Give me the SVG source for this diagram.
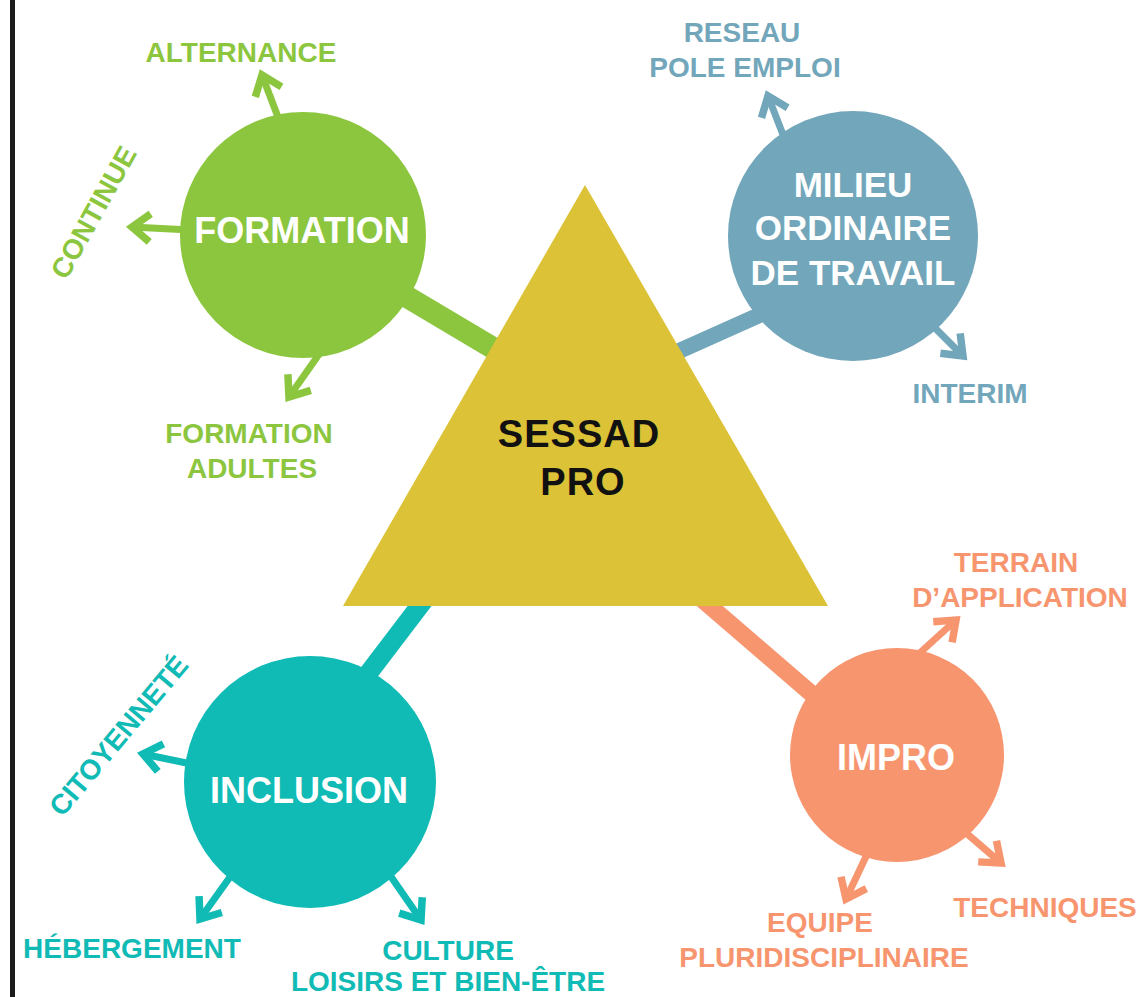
<svg xmlns="http://www.w3.org/2000/svg" width="1141" height="997" viewBox="0 0 1141 997">
  <style>
    text { font-family: "Liberation Sans", Arial, sans-serif; font-weight: bold; text-anchor: middle; }
    .lbl { font-size: 28px; }
    .nd { font-size: 36px; fill: #ffffff; }
    .nd2 { font-size: 35px; fill: #ffffff; }
    .green { fill: #8CC63F; }
    .blue { fill: #72A6BA; }
    .teal { fill: #10BAB5; }
    .salmon { fill: #F7956F; }
    .arr { fill: none; stroke-width: 7; stroke-linecap: butt; }
    .bar { stroke-linecap: butt; }
  </style>
  <defs>
    <marker id="mg" markerUnits="userSpaceOnUse" markerWidth="50" markerHeight="50" viewBox="-25 -25 50 50" refX="0" refY="0" orient="auto" overflow="visible">
      <path d="M-18,-14 L0,0 L-18,14" fill="none" stroke="#8CC63F" stroke-width="7.5" stroke-linejoin="miter"/>
    </marker>
    <marker id="mb" markerUnits="userSpaceOnUse" markerWidth="50" markerHeight="50" viewBox="-25 -25 50 50" refX="0" refY="0" orient="auto" overflow="visible">
      <path d="M-18,-14 L0,0 L-18,14" fill="none" stroke="#72A6BA" stroke-width="7.5" stroke-linejoin="miter"/>
    </marker>
    <marker id="mt" markerUnits="userSpaceOnUse" markerWidth="50" markerHeight="50" viewBox="-25 -25 50 50" refX="0" refY="0" orient="auto" overflow="visible">
      <path d="M-18,-14 L0,0 L-18,14" fill="none" stroke="#10BAB5" stroke-width="7.5" stroke-linejoin="miter"/>
    </marker>
    <marker id="ms" markerUnits="userSpaceOnUse" markerWidth="50" markerHeight="50" viewBox="-25 -25 50 50" refX="0" refY="0" orient="auto" overflow="visible">
      <path d="M-18,-14 L0,0 L-18,14" fill="none" stroke="#F7956F" stroke-width="7.5" stroke-linejoin="miter"/>
    </marker>
  </defs>

  <rect x="0" y="0" width="1141" height="997" fill="#ffffff"/>
  <rect x="10" y="0" width="5" height="997" fill="#1c1c1c"/>

  <g id="connectors">
    <line class="bar" x1="303" y1="235" x2="530" y2="370" stroke="#8CC63F" stroke-width="22"/>
    <line class="bar" x1="630" y1="373" x2="800" y2="297" stroke="#72A6BA" stroke-width="16"/>
    <line class="bar" x1="447" y1="570" x2="348" y2="700" stroke="#10BAB5" stroke-width="19"/>
    <line class="bar" x1="668" y1="570" x2="842" y2="720" stroke="#F7956F" stroke-width="17"/>

    <line class="arr" x1="281" y1="125" x2="262" y2="75" stroke="#8CC63F" marker-end="url(#mg)"/>
    <line class="arr" x1="190" y1="230" x2="132" y2="227" stroke="#8CC63F" marker-end="url(#mg)"/>
    <line class="arr" x1="322" y1="350" x2="289" y2="397" stroke="#8CC63F" marker-end="url(#mg)"/>

    <line class="arr" x1="787" y1="145" x2="768" y2="96" stroke="#72A6BA" marker-end="url(#mb)"/>
    <line class="arr" x1="925" y1="318" x2="963" y2="356" stroke="#72A6BA" marker-end="url(#mb)"/>

    <line class="arr" x1="196" y1="765" x2="143" y2="754" stroke="#10BAB5" marker-end="url(#mt)"/>
    <line class="arr" x1="235" y1="870" x2="200" y2="919" stroke="#10BAB5" marker-end="url(#mt)"/>
    <line class="arr" x1="385" y1="868" x2="421" y2="920" stroke="#10BAB5" marker-end="url(#mt)"/>

    <line class="arr" x1="912" y1="660" x2="956" y2="620" stroke="#F7956F" marker-end="url(#ms)"/>
    <line class="arr" x1="958" y1="826" x2="1001" y2="863" stroke="#F7956F" marker-end="url(#ms)"/>
    <line class="arr" x1="870" y1="848" x2="846" y2="899" stroke="#F7956F" marker-end="url(#ms)"/>
  </g>

  <g id="sessad-pro">
    <polygon points="585,185 343,606 828,606" fill="#DCC236"/>
    <text x="579" y="447" font-size="38" letter-spacing="1" fill="#111111">SESSAD</text>
    <text x="583" y="495" font-size="38" letter-spacing="1" fill="#111111">PRO</text>
  </g>

  <g id="formation">
    <circle cx="303" cy="235" r="123" fill="#8CC63F"/>
    <text class="nd" x="302" y="243">FORMATION</text>
  </g>

  <g id="milieu">
    <circle cx="853" cy="236" r="125" fill="#72A6BA"/>
    <text class="nd2" x="853" y="197">MILIEU</text>
    <text class="nd2" x="853" y="240">ORDINAIRE</text>
    <text class="nd2" x="853" y="285">DE TRAVAIL</text>
  </g>

  <g id="inclusion">
    <circle cx="310" cy="782" r="126" fill="#10BAB5"/>
    <text class="nd" x="309" y="803">INCLUSION</text>
  </g>

  <g id="impro">
    <circle cx="897" cy="755" r="107" fill="#F7956F"/>
    <text class="nd" x="896" y="770">IMPRO</text>
  </g>

  <g id="alternance"><text class="lbl green" x="241" y="62">ALTERNANCE</text></g>
  <g id="continue"><text class="lbl green" x="102" y="217" transform="rotate(-61 102 217)">CONTINUE</text></g>
  <g id="formation-adultes">
    <text class="lbl green" x="249" y="443">FORMATION</text>
    <text class="lbl green" x="252" y="478">ADULTES</text>
  </g>

  <g id="reseau">
    <text class="lbl blue" x="742" y="42">RESEAU</text>
    <text class="lbl blue" x="745" y="77">POLE EMPLOI</text>
  </g>
  <g id="interim"><text class="lbl blue" x="970" y="403">INTERIM</text></g>

  <g id="citoyennete"><text class="lbl teal" x="126" y="742" transform="rotate(-50 126 742)">CITOYENNETÉ</text></g>
  <g id="hebergement"><text class="lbl teal" x="132" y="958">HÉBERGEMENT</text></g>
  <g id="culture">
    <text class="lbl teal" x="448" y="960">CULTURE</text>
    <text class="lbl teal" x="448" y="991">LOISIRS ET BIEN-ÊTRE</text>
  </g>

  <g id="terrain">
    <text class="lbl salmon" x="1016" y="572">TERRAIN</text>
    <text class="lbl salmon" x="1020" y="607">D’APPLICATION</text>
  </g>
  <g id="techniques"><text class="lbl salmon" x="1045" y="917">TECHNIQUES</text></g>
  <g id="equipe">
    <text class="lbl salmon" x="820" y="932">EQUIPE</text>
    <text class="lbl salmon" x="824" y="967">PLURIDISCIPLINAIRE</text>
  </g>
</svg>
